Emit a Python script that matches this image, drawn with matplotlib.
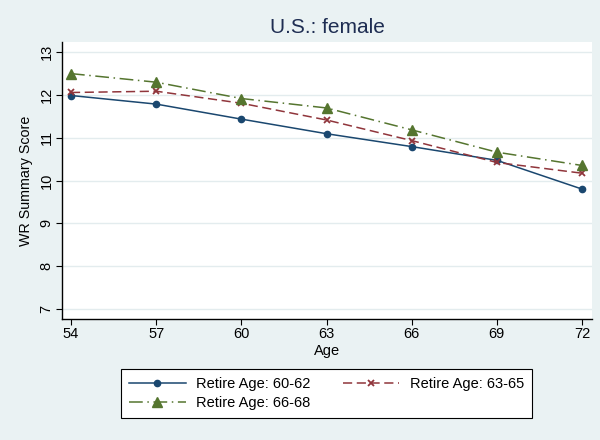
import matplotlib
matplotlib.use("Agg")
import matplotlib.pyplot as plt

ages = [54, 57, 60, 63, 66, 69, 72]
retire_60_62 = [11.98, 11.78, 11.43, 11.09, 10.79, 10.47, 9.80]
retire_63_65 = [12.05, 12.08, 11.80, 11.41, 10.93, 10.42, 10.17]
retire_66_68 = [12.49, 12.29, 11.91, 11.69, 11.18, 10.66, 10.35]
labels = ["Retire Age: 60-62", "Retire Age: 63-65", "Retire Age: 66-68"]
yticks = [7, 8, 9, 10, 11, 12, 13]

bg = "#EAF2F3"
navy = "#1A476F"
maroon = "#90353B"
green = "#55752F"

plt.rcParams['font.family'] = ['Liberation Sans', 'DejaVu Sans']

fig = plt.figure(figsize=(6, 4.4), dpi=100, facecolor=bg)
ax = fig.add_axes([0.1033, 0.275, 0.8834, 0.6302])
ax.set_facecolor("white")

l1, = ax.plot(ages, retire_60_62, color=navy, lw=1.1, marker='o', ms=4.5, label=labels[0])
l2, = ax.plot(ages, retire_63_65, color=maroon, lw=1.1, ls=(0, (6, 3)), marker='x', ms=4, mew=1.3, label=labels[1])
l3, = ax.plot(ages, retire_66_68, color=green, lw=1.1, ls=(0, (9, 3, 1, 3)), marker='^', ms=6.5, label=labels[2])

ax.set_xlim(53.683, 72.352)
ax.set_ylim(6.774, 13.233)
ax.set_xticks(ages)
ax.set_yticks(yticks)
ax.set_yticklabels([str(v) for v in yticks], rotation=90, va='center')
ax.yaxis.grid(True, color="#E3ECEE", lw=1.0)
ax.set_axisbelow(True)
for s in ['top', 'right']:
    ax.spines[s].set_visible(False)
for s in ['left', 'bottom']:
    ax.spines[s].set_color('black')
    ax.spines[s].set_linewidth(1.0)
ax.tick_params(axis='both', direction='out', length=4, width=0.8, labelsize=10.5, colors='black')
ax.tick_params(axis='x', pad=2)
ax.tick_params(axis='y', pad=2)

ax.set_xlabel("Age", fontsize=10.5, labelpad=2)
ax.set_ylabel("WR Summary Score", fontsize=10.3, labelpad=5)
ax.set_title("U.S.: female", fontsize=15, color="#1E2D52", pad=6)

leg = fig.legend(handles=[l1, l3, l2], labels=[labels[0], labels[2], labels[1]], ncol=2, loc='center',
                 bbox_to_anchor=(0.544, 0.1057), fontsize=10.5, frameon=True,
                 fancybox=False, edgecolor='black', facecolor='white',
                 handlelength=3.9, columnspacing=2.2, borderpad=0.55,
                 labelspacing=0.35, handletextpad=0.7)
leg.get_frame().set_linewidth(0.8)
leg.get_frame().set_alpha(1)

fig.savefig("out.png", dpi=100, facecolor=bg)
